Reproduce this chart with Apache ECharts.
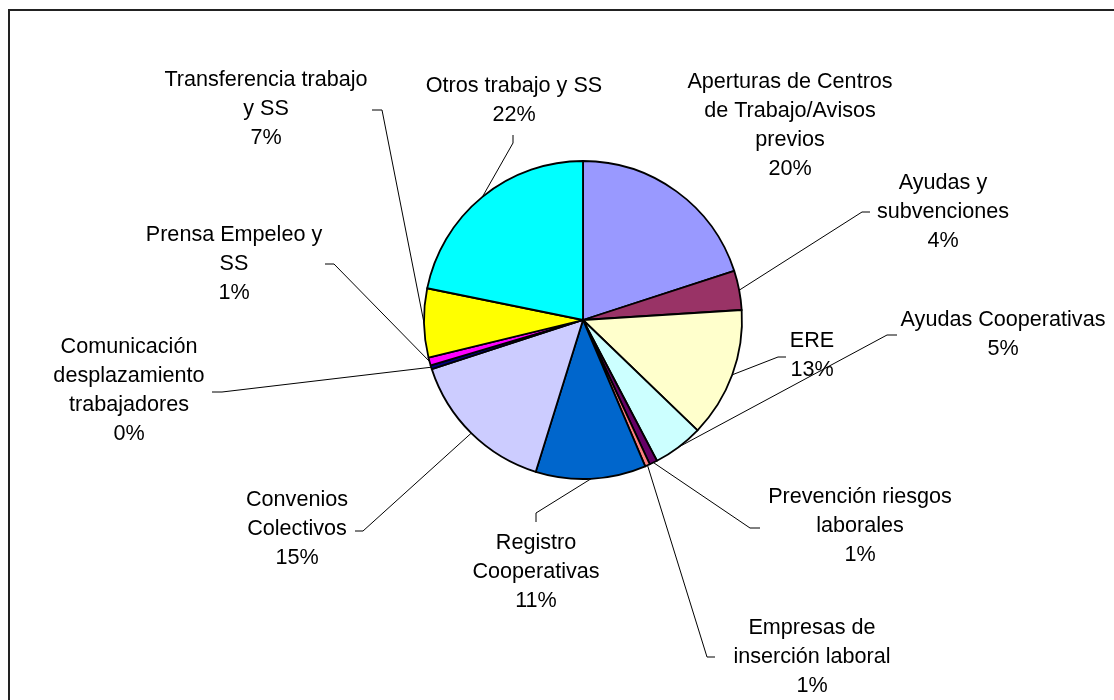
<!DOCTYPE html>
<html>
<head>
<meta charset="utf-8">
<script src="https://cdn.jsdelivr.net/npm/echarts@6/dist/echarts.min.js"></script>
<style>
  html, body { margin: 0; padding: 0; background: #fff; }
  #chart { width: 1114px; height: 700px; }
</style>
</head>
<body>
<div id="chart"></div>
<script>
// categories (with the line breaks used in the labels)
const categories = [
  'Aperturas de Centros\nde Trabajo/Avisos\nprevios',
  'Ayudas y\nsubvenciones',
  'ERE',
  'Ayudas Cooperativas',
  'Prevención riesgos\nlaborales',
  'Empresas de\ninserción laboral',
  'Registro\nCooperativas',
  'Convenios\nColectivos',
  'Comunicación\ndesplazamiento\ntrabajadores',
  'Prensa Empeleo y\nSS',
  'Transferencia trabajo\ny SS',
  'Otros trabajo y SS'
]
// share of each category (%)
const values = [20.0, 4.0, 13.2, 5.1, 0.8, 0.5, 11.2, 15.2, 0.4, 0.8, 7.0, 21.8]
const colors = ['#9999FF', '#993366', '#FFFFCC', '#CCFFFF', '#660066', '#FF8080',
  '#0066CC', '#CCCCFF', '#000080', '#FF00FF', '#FFFF00', '#00FFFF']

// label placement: text anchor (center x, top y) and leader elbow / end
const labelPos = [
  [790, 68], [943, 169], [812, 327], [1003, 306], [860, 483], [812, 614],
  [536, 529], [297, 486], [129, 333], [234, 221], [266, 66], [514, 72]
]
const leaderPts = [
  null,
  [[862, 212], [870, 212]],
  [[778, 357], [786, 357]],
  [[887, 335], [897, 335]],
  [[750, 528], [760, 528]],
  [[707, 657], [715, 657]],
  [[536, 513], [536, 522]],
  [[363, 531], [355, 531]],
  [[222, 392], [212, 392]],
  [[334, 264], [325, 264]],
  [[382, 110], [372, 110]],
  [[513, 143], [513, 135]]
]

const chart = echarts.init(document.getElementById('chart'))

const data = categories.map((name, i) => ({
  name,
  value: values[i],
  itemStyle: { color: colors[i] },
  labelLine: { show: leaderPts[i] !== null }
}))

chart.setOption({
  animation: false,
  backgroundColor: '#fff',
  graphic: [{
    type: 'rect',
    shape: { x: 9, y: 10, width: 1200, height: 800 },
    style: { fill: 'none', stroke: '#222', lineWidth: 2 },
    z: -1
  }],
  series: [{
    type: 'pie',
    center: [583, 320],
    radius: 159,
    startAngle: 90,
    clockwise: true,
    avoidLabelOverlap: false,
    data,
    itemStyle: { borderColor: '#000', borderWidth: 1.8 },
    label: {
      show: true,
      position: 'outside',
      color: '#000',
      fontFamily: 'Liberation Sans, Arial, sans-serif',
      fontSize: 21.6,
      lineHeight: 29,
      align: 'center',
      formatter: p => p.name + '\n' + Math.round(p.percent) + '%'
    },
    labelLine: {
      show: true,
      length: 10,
      length2: 10,
      lineStyle: { color: '#000', width: 1 }
    },
    labelLayout: params => {
      const i = params.dataIndex
      const out = {
        x: labelPos[i][0],
        y: labelPos[i][1],
        align: 'center',
        verticalAlign: 'top'
      }
      if (leaderPts[i] && params.labelLinePoints) {
        out.labelLinePoints = [params.labelLinePoints[0], leaderPts[i][0], leaderPts[i][1]]
      }
      return out
    },
    emphasis: { disabled: true }
  }]
})
</script>
</body>
</html>
